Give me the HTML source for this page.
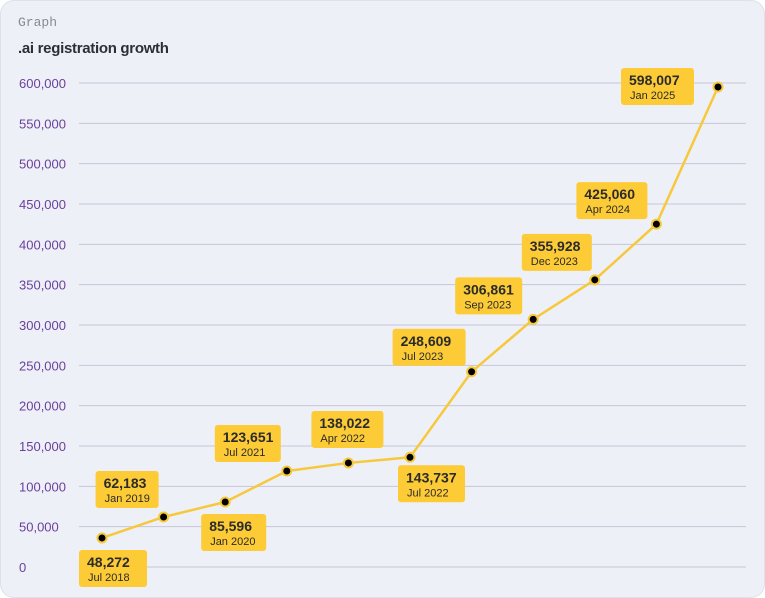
<!DOCTYPE html>
<html><head><meta charset="utf-8"><style>
body{margin:0;background:#fff;font-family:"Liberation Sans",sans-serif}
#card{position:absolute;left:0;top:0;width:763px;height:596px;background:#eef0f7;border:1px solid #dfe1ea;border-radius:14px;overflow:hidden}
#kicker{position:absolute;left:17px;top:14px;font:13px "Liberation Mono",monospace;color:#8a8a90}
#title{position:absolute;left:17px;top:39px;font-weight:bold;font-size:15px;color:#2e2e38;letter-spacing:-0.3px}
svg{position:absolute;left:0;top:0}
</style></head><body>
<div id="card">
<div id="kicker">Graph</div>
<div id="title">.ai registration growth</div>
<svg id="chart" width="765" height="598"></svg>
</div>
<script>
const categories=["Jul 2018","Jan 2019","Jan 2020","Jul 2021","Apr 2022","Jul 2022","Jul 2023","Sep 2023","Dec 2023","Apr 2024","Jan 2025"];
const plottedValues=[36000,62000,80600,119000,129000,136000,242000,307000,356000,425000,595000];
const printedValues=["48,272","62,183","85,596","123,651","138,022","143,737","248,609","306,861","355,928","425,060","598,007"];
const tickValues=[0,50000,100000,150000,200000,250000,300000,350000,400000,450000,500000,550000,600000];
const tickLabels=["0","50,000","100,000","150,000","200,000","250,000","300,000","350,000","400,000","450,000","500,000","550,000","600,000"];
// label box layout offsets (styling)
const boxDx=[-23,-68,-24,-72,-37,-12,-79,-78,-73,-80,-97];
const boxDy=[12,-46,12,-46,-52,8,-43,-42,-46,-42,-19];
const boxW=[68,63,65,66,72,67,73,67,70,71,73];
const catLabelsShown=["Jul 2018","Jan 2019","Jan 2020","Jul 2021","Apr  2022","Jul 2022","Jul 2023","Sep 2023","Dec 2023","Apr 2024","Jan 2025"];

const NS="http://www.w3.org/2000/svg";
const svg=document.getElementById('chart');
const y0=566,y1=82,vmax=600000;
const yS=v=>y0-(v/vmax)*(y0-y1);
const xS=i=>101+i*(717-101)/(categories.length-1);
function mk(t,a){const e=document.createElementNS(NS,t);for(const k in a)e.setAttribute(k,a[k]);svg.appendChild(e);return e;}
tickValues.forEach((v,i)=>{
  const l=mk('line',{x1:78,x2:745,y1:yS(v),y2:yS(v),stroke:'#c8c5db','stroke-width':1});
  
  
  const t=mk('text',{x:18,y:yS(v)+5,'font-size':13,fill:'#6a3f9c','font-family':'Liberation Sans, sans-serif'});
  t.textContent=tickLabels[i];
  
  
});
const pts=plottedValues.map((v,i)=>xS(i)+','+yS(v)).join(' ');
const line=mk('polyline',{points:pts,fill:'none',stroke:'#f6c93c','stroke-width':2.5,'stroke-linejoin':'round'});


plottedValues.forEach((v,i)=>{
  const c=mk('circle',{cx:xS(i),cy:yS(v),r:4.5,fill:'#000',stroke:'#f6c93c','stroke-width':2});
  
  
});
plottedValues.forEach((v,i)=>{
  const bx=xS(i)+boxDx[i],by=yS(v)+boxDy[i];
  const r=mk('rect',{x:bx,y:by,width:boxW[i],height:37,rx:3,fill:'#fccb35'});
  
  
  const t1=mk('text',{x:bx+8,y:by+17,'font-size':14,'font-weight':'bold',fill:'#2b2b2b','font-family':'Liberation Sans, sans-serif'});
  t1.textContent=printedValues[i];
  
  
  const t2=mk('text',{x:bx+9,y:by+31,'font-size':11,fill:'#2b2b2b','font-family':'Liberation Sans, sans-serif'});
  t2.textContent=categories[i];
  
  
});
</script>
</body></html>
